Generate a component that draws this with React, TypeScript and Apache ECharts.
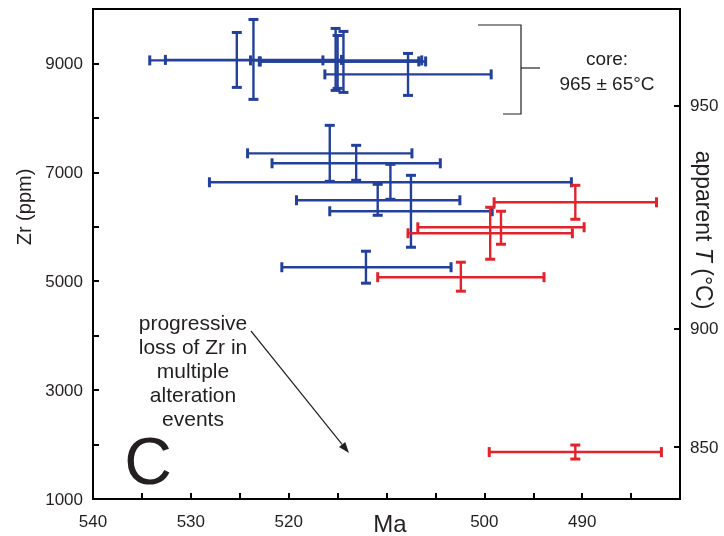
import React, { useEffect, useRef } from 'react';
import * as echarts from 'echarts';

// ---- data (Ma = age, Zr in ppm) ----
// Blue analyses
const blueAge = [525.3, 523.6, 515.2, 515.0, 514.4, 507.8, 515.8, 513.1, 509.6, 510.9, 507.5, 512.1];
const blueAgeOld = [534.2, 532.6, 523.9, 523.0, 522.9, 516.3, 524.2, 521.7, 528.1, 519.2, 515.8, 520.7];
const blueAgeYoung = [516.5, 514.6, 506.4, 506.7, 506.0, 499.3, 507.4, 504.5, 491.1, 502.5, 499.2, 503.4];
const blueZr = [9056, 9065, 9056, 9037, 9037, 8799, 7349, 7166, 6817, 6487, 6285, 5257];
const blueZrLow = [8560, 8340, 8505, 8542, 8468, 8413, 6835, 6854, 6505, 6211, 5624, 4964];
const blueZrHigh = [9569, 9808, 9643, 9514, 9588, 9184, 7863, 7496, 7147, 6780, 6945, 5551];

// Red analyses
const redAge = [490.7, 499.4, 498.3, 502.4, 490.7];
const redAgeOld = [499.0, 507.8, 506.8, 510.9, 499.5];
const redAgeYoung = [482.4, 491.0, 489.8, 493.9, 481.9];
const redZr = [6450, 5881, 5991, 5074, 1862];
const redZrLow = [6138, 5404, 5679, 4817, 1734];
const redZrHigh = [6762, 6358, 6285, 5349, 1991];

// axes
const xLabelValues = [540, 530, 520, 500, 490];
const yLabelValues = [1000, 3000, 5000, 7000, 9000];
const tempLabels = [850, 900, 950];
const tempTickZr = [1954, 4130, 8230];

const BLUE = '#23409a';
const RED = '#e2232b';
const INK = '#231f20';
const FONT = "'Liberation Sans', Arial, Helvetica, sans-serif";

function rows(a: number[], ao: number[], ay: number[], z: number[], zl: number[], zh: number[]) {
  return a.map((v, i) => [v, ao[i], ay[i], z[i], zl[i], zh[i]]);
}

function errRender(color: string) {
  return (params: any, api: any) => {
    const x = api.value(0), xo = api.value(1), xy = api.value(2);
    const y = api.value(3), yl = api.value(4), yh = api.value(5);
    const pL = api.coord([xo, y]);
    const pR = api.coord([xy, y]);
    const pT = api.coord([x, yh]);
    const pB = api.coord([x, yl]);
    const c = 5;
    const st = { stroke: color, lineWidth: 2.4 };
    const cap = { stroke: color, lineWidth: 3 };
    return {
      type: 'group',
      children: [
        { type: 'line', shape: { x1: pL[0], y1: pL[1], x2: pR[0], y2: pR[1] }, style: st },
        { type: 'line', shape: { x1: pL[0], y1: pL[1] - c, x2: pL[0], y2: pL[1] + c }, style: cap },
        { type: 'line', shape: { x1: pR[0], y1: pR[1] - c, x2: pR[0], y2: pR[1] + c }, style: cap },
        { type: 'line', shape: { x1: pT[0], y1: pT[1], x2: pB[0], y2: pB[1] }, style: st },
        { type: 'line', shape: { x1: pT[0] - c, y1: pT[1], x2: pT[0] + c, y2: pT[1] }, style: cap },
        { type: 'line', shape: { x1: pB[0] - c, y1: pB[1], x2: pB[0] + c, y2: pB[1] }, style: cap },
      ],
    };
  };
}

export default function App() {
  const ref = useRef<HTMLDivElement>(null);
  useEffect(() => {
    if (!ref.current) return;
    const chart = echarts.init(ref.current, null, { renderer: 'svg' });
    const ang = Math.atan2(453 - 331, 349 - 251);
    const tipX = 349, tipY = 453, L = 11, W = 4;
    const bx = tipX - L * Math.cos(ang), by = tipY - L * Math.sin(ang);
    const px = -Math.sin(ang) * W, py = Math.cos(ang) * W;
    chart.setOption({
      animation: false,
      grid: {
        left: 93, right: 44, top: 9, bottom: 37, containLabel: false, outerBoundsMode: 'none',
        show: true, borderColor: '#000', borderWidth: 2,
      },
      xAxis: {
        type: 'value', min: 480, max: 540, interval: 5, inverse: true,
        axisLine: { show: true, lineStyle: { color: '#000', width: 2 } },
        axisTick: { show: true, inside: true, length: 6, lineStyle: { color: '#000', width: 2 } },
        axisLabel: { customValues: xLabelValues, margin: 14, fontFamily: FONT, fontSize: 17, color: INK, formatter: (v: number) => String(v) },
        splitLine: { show: false },
      },
      yAxis: [
        {
          type: 'value', min: 1000, max: 10000, interval: 1000,
          axisLine: { show: true, lineStyle: { color: '#000', width: 2 } },
          axisTick: { show: true, inside: true, length: 6, lineStyle: { color: '#000', width: 2 } },
          axisLabel: { customValues: yLabelValues, margin: 10, fontFamily: FONT, fontSize: 17, color: INK, formatter: (v: number) => String(v) },
          splitLine: { show: false },
        },
        {
          type: 'value', min: 1000, max: 10000, position: 'right',
          axisLine: { show: true, lineStyle: { color: '#000', width: 2 } },
          axisTick: { show: true, inside: true, length: 6, customValues: tempTickZr, lineStyle: { color: '#000', width: 2 } },
          axisLabel: {
            customValues: tempTickZr, margin: 10, fontFamily: FONT, fontSize: 17, color: INK,
            formatter: (v: number) => {
              const i = tempTickZr.indexOf(v);
              return i >= 0 ? String(tempLabels[i]) : '';
            },
          },
          splitLine: { show: false },
        },
      ],
      series: [
        {
          type: 'custom', name: 'blue', renderItem: errRender(BLUE),
          encode: { x: [0, 1, 2], y: [3, 4, 5] },
          data: rows(blueAge, blueAgeOld, blueAgeYoung, blueZr, blueZrLow, blueZrHigh),
          clip: false,
        },
        {
          type: 'custom', name: 'red', renderItem: errRender(RED),
          encode: { x: [0, 1, 2], y: [3, 4, 5] },
          data: rows(redAge, redAgeOld, redAgeYoung, redZr, redZrLow, redZrHigh),
          clip: false,
        },
      ],
      graphic: [
        { type: 'text', x: 390, y: 523, style: { text: 'Ma', font: `24px ${FONT}`, fill: INK, align: 'center', verticalAlign: 'middle' } },
        { type: 'polyline', shape: { points: [[478, 25], [521, 25], [521, 114], [503, 114]] }, style: { stroke: INK, lineWidth: 1.2, fill: null } },
        { type: 'line', shape: { x1: 521, y1: 68, x2: 540, y2: 68 }, style: { stroke: INK, lineWidth: 1.2 } },
        { type: 'text', x: 607, y: 58, style: { text: 'core:', font: `19px ${FONT}`, fill: INK, align: 'center', verticalAlign: 'middle' } },
        { type: 'text', x: 607, y: 83, style: { text: '965 ± 65°C', font: `19px ${FONT}`, fill: INK, align: 'center', verticalAlign: 'middle' } },
        {
          type: 'text', x: 193, y: 370,
          style: {
            text: 'progressive\nloss of Zr in\nmultiple\nalteration\nevents',
            font: `21px ${FONT}`, fill: INK, align: 'center', verticalAlign: 'middle', lineHeight: 24,
          },
        },
        { type: 'line', shape: { x1: 251, y1: 331, x2: bx, y2: by }, style: { stroke: INK, lineWidth: 1.2 } },
        { type: 'polygon', shape: { points: [[tipX, tipY], [bx + px, by + py], [bx - px, by - py]] }, style: { fill: INK } },
        { type: 'text', x: 148, y: 461, style: { text: 'C', font: `66px ${FONT}`, fill: INK, align: 'center', verticalAlign: 'middle' } },
        { type: 'text', x: 24, y: 207, rotation: Math.PI / 2, style: { text: 'Zr (ppm)', font: `20px ${FONT}`, fill: INK, align: 'center', verticalAlign: 'middle' } },
        {
          type: 'text', x: 704, y: 230, rotation: -Math.PI / 2,
          style: {
            text: '{a|apparent }{b|T}{a| (°C)}',
            align: 'center', verticalAlign: 'middle',
            rich: {
              a: { fontFamily: FONT, fontSize: 23, fill: INK },
              b: { fontFamily: FONT, fontSize: 23, fontStyle: 'italic', fill: INK },
            },
          },
        },
      ],
    });
    return () => chart.dispose();
  }, []);
  return <div ref={ref} style={{ position: 'fixed', left: 0, top: 0, width: 724, height: 536 }} />;
}
